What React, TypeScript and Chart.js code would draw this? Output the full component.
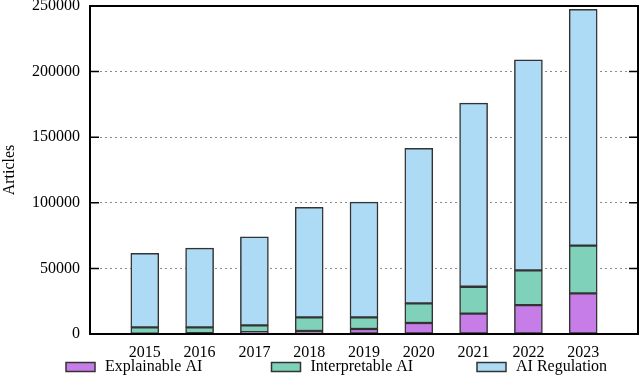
import React, { useEffect, useRef } from "react";
import { Chart, registerables } from "chart.js";

Chart.register(...registerables);

const years = ["2015", "2016", "2017", "2018", "2019", "2020", "2021", "2022", "2023"];
const explainable = [200, 600, 1300, 2300, 3800, 8400, 15500, 22000, 31000];
const interpretable = [4900, 4500, 5300, 10400, 8900, 15000, 20500, 26500, 36300];
const regulation = [56400, 60400, 67400, 83800, 87800, 118100, 140000, 160500, 180200];
const yTicks = [0, 50000, 100000, 150000, 200000, 250000];
const seriesNames = ["Explainable AI", "Interpretable AI", "AI Regulation"];
const seriesColors = ["#C77DE8", "#7FD1B9", "#ADDAF4"];

const FONT = "'Liberation Serif', 'Times New Roman', serif";

export default function App() {
  const ref = useRef<HTMLCanvasElement | null>(null);
  useEffect(() => {
    document.body.style.margin = "0";
    const labels = ["", ...years, ""];
    const pad = (arr: number[]) => [null, ...arr, null];
    const allData = [explainable, interpretable, regulation];

    const framePlugin = {
      id: "frame",
      afterDatasetsDraw(chart: any) {
        const { ctx, chartArea } = chart;
        const ys = chart.scales.y;
        ctx.save();
        ctx.strokeStyle = "#000";
        ctx.lineWidth = 1.5;
        ctx.setLineDash([]);
        for (const v of yTicks) {
          const py = ys.getPixelForValue(v);
          ctx.beginPath();
          ctx.moveTo(chartArea.left, py);
          ctx.lineTo(chartArea.left + 9, py);
          ctx.moveTo(chartArea.right, py);
          ctx.lineTo(chartArea.right - 9, py);
          ctx.stroke();
        }
        ctx.lineWidth = 2;
        ctx.strokeRect(chartArea.left, chartArea.top, chartArea.right - chartArea.left, chartArea.bottom - chartArea.top);
        ctx.restore();
      },
      afterDraw(chart: any) {
        const { ctx } = chart;
        ctx.save();
        ctx.font = `16px ${FONT}`;
        ctx.textBaseline = "middle";
        ctx.textAlign = "left";
        for (let i = 0; i < seriesNames.length; i++) {
          const x = 66 + i * 205.5;
          const y = 362.5;
          ctx.fillStyle = seriesColors[i];
          ctx.fillRect(x, y, 29, 9);
          ctx.strokeStyle = "#333";
          ctx.lineWidth = 1.5;
          ctx.strokeRect(x, y, 29, 9);
          ctx.fillStyle = "#000";
          ctx.fillText(seriesNames[i], x + 39, y + 4.5);
        }
        ctx.restore();
      },
    };

    const chart = new Chart(ref.current as HTMLCanvasElement, {
      type: "bar",
      data: {
        labels,
        datasets: seriesNames.map((name, i) => ({
          label: name,
          data: pad(allData[i]),
          backgroundColor: seriesColors[i],
          borderColor: "#333",
          borderWidth: 1.5,
          borderSkipped: false,
          barThickness: 28,
        })) as any,
      },
      options: {
        animation: false,
        responsive: false,
        maintainAspectRatio: false,
        layout: { padding: { top: 6, right: 2, left: 0, bottom: 0 } },
        plugins: { legend: { display: false }, tooltip: { enabled: false } },
        scales: {
          x: {
            stacked: true,
            offset: false,
            grid: { display: false, drawTicks: false },
            border: { display: false },
            ticks: { color: "#000", font: { family: FONT, size: 16 }, padding: 9, maxRotation: 0, autoSkip: false },
            afterFit: (s: any) => { s.height = 42; s.paddingLeft = 0; s.paddingRight = 0; },
          },
          y: {
            stacked: true,
            min: 0,
            max: 250000,
            afterBuildTicks: (s: any) => { s.ticks = yTicks.map((v) => ({ value: v })); },
            grid: {
              drawTicks: false,
              color: (c: any) => (c.tick && (c.tick.value === 0 || c.tick.value === 250000) ? "rgba(0,0,0,0)" : "#8a8a8a"),
              lineWidth: 1,
            },
            border: { display: false, dash: [2, 3] },
            ticks: { color: "#000", font: { family: FONT, size: 16 }, padding: 10, callback: (v: any) => String(v) },
            title: { display: true, text: "Articles", color: "#000", font: { family: FONT, size: 16 }, padding: 0 },
            afterFit: (s: any) => { s.width = 90; s.paddingTop = 0; s.paddingBottom = 0; },
          },
        },
      },
      plugins: [framePlugin],
    });
    return () => chart.destroy();
  }, []);
  return (
    <div style={{ width: 640, height: 376 }}>
      <canvas ref={ref} width={640} height={376} style={{ display: "block" }} />
    </div>
  );
}
